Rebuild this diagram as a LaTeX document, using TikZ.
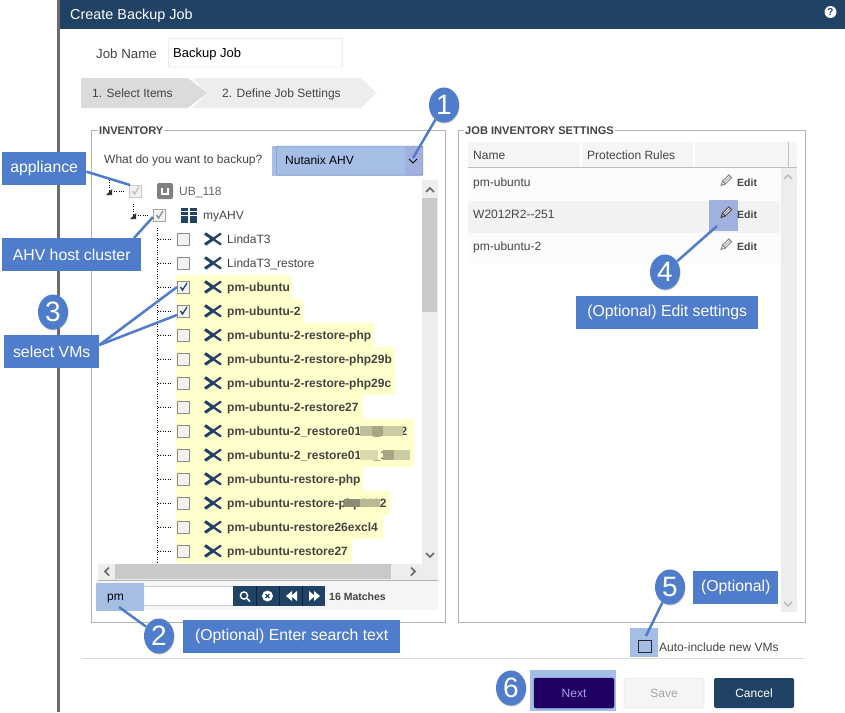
\documentclass[tikz,border=0pt]{standalone}
\usepackage{fontspec}
\setmainfont{Liberation Sans}
\usetikzlibrary{shapes.geometric,shadows}
\definecolor{navy}{HTML}{1F4265}
\definecolor{callblue}{HTML}{4F7CCB}
\definecolor{hilite}{HTML}{A5BEE5}
\definecolor{hilitb}{HTML}{A2B0E0}
\definecolor{vmyellow}{HTML}{FFFFCC}
\definecolor{uitext}{HTML}{444444}
\definecolor{nextblue}{HTML}{1F0062}
\definecolor{nexttext}{HTML}{AAA5E1}
\tikzset{
	lbl/.style={inner sep=0, anchor=base west, text=uitext, font=\fontsize{12}{14}\selectfont},
	lblb/.style={lbl, font=\fontsize{12}{14}\selectfont\bfseries},
	legendtxt/.style={lbl, fill=white, inner xsep=1, font=\fontsize{11.1}{13}\selectfont\bfseries},
	callbox/.style={fill=callblue, text=white, inner sep=0, font=\fontsize{15.8}{18}\selectfont},
	badge/.style={ellipse, fill=callblue, text=white, inner sep=0, minimum width=30, minimum height=35,
		font=\fontsize{28}{30}\selectfont, drop shadow={opacity=0.45, shadow xshift=0.5pt, shadow yshift=-1pt}},
	calline/.style={callblue, line width=2.5},
	hibox/.style={fill=hilite, inner sep=0},
	chk/.style={rectangle, draw=#1, fill=black!5, inner sep=0, minimum size=12, line width=1},
	chk/.default={black!45},
	btn/.style={rounded corners=2, inner sep=0, minimum width=80, minimum height=30, font=\fontsize{12}{14}\selectfont}
}
% one pic per icon
\tikzset{
	vmicon/.pic={
		\draw[navy, line width=3] (-8,-5.5) -- (0,0) -- (-8,5.5);
		\draw[navy, line width=2.2] (8,-5.5) -- (0,0) -- (8,5.5);
	},
	pencil/.pic={
		\draw[#1, line width=0.9, fill=white, rotate=-45] (-2,-6) rectangle (2,3);
		\draw[#1, line width=0.9, rotate=-45] (-2,3) -- (0,7) -- (2,3);
		\draw[#1, line width=0.5, rotate=-45] (0,-6) -- (0,3);
	},
	uparrow/.pic={\draw[#1, line width=1.6] (-4,2) -- (0,-2) -- (4,2);},
	downarrow/.pic={\draw[#1, line width=1.6] (-4,-2) -- (0,2) -- (4,-2);},
}
\def\tick(#1,#2)#3{\draw[#3, line width=1.3] (#1-3,#2) -- (#1-1,#2+3) -- (#1+3.5,#2-4);}
\begin{document}
\begin{tikzpicture}[x=1pt, y=-1pt]
	\useasboundingbox (0,0) rectangle (845,712);
	\fill[white] (0,0) rectangle (845,712);
	%%%%% FRAME %%%%%
	\fill[black!58] (57,0) rectangle (60,712);
	\fill[navy] (60,0) rectangle (845,29);
	\node[lbl, text=white, font=\fontsize{14.4}{16}\selectfont] (title) at (70,19) {Create Backup Job};
	\node[circle, fill=white, text=navy, inner sep=0, minimum size=12, font=\fontsize{10}{10}\selectfont\bfseries] (help) at (830.5,12) {?};

	\node[lbl, font=\fontsize{13.3}{15}\selectfont] (jobname) at (96,58) {Job Name};
	\draw[black!20, rounded corners=2] (168.5,38.5) rectangle (342.5,67);
	\node[lbl, text=black, font=\fontsize{13}{15}\selectfont] (jobval) at (173,57) {Backup Job};

	%%%%% STEPS %%%%%
	\fill[black!7] (192,78) -- (361,78) -- (376,93) -- (361,108) -- (192,108) -- (207,93) -- cycle;
	\fill[black!14, rounded corners=1] (81,78) -- (188,78) -- (207,93) -- (188,108) -- (81,108) -- cycle;
	\node[lbl] (stepa) at (92,97) {1. Select Items};
	\node[lbl] (stepb) at (222,97) {2. Define Job Settings};

	%%%%% INVENTORY %%%%%
	\draw[black!30] (91.5,130.5) rectangle (445,622.5);
	\node[legendtxt] (inv) at (98,134) {INVENTORY};
	\node[lbl] (whatq) at (104,163) {What do you want to backup?};
	\node[hibox, minimum width=151, minimum height=30, anchor=north west] (ddhi) at (272,145.5) {};
	\fill[hilitb] (405,146) rectangle (422.5,175);
	\draw[black!30!hilitb, rounded corners=2] (276.5,146) rectangle (423,175);
	\node[lbl, text=black] (ddval) at (285,164.5) {Nutanix AHV};
	\coordinate (ddtip) at (413,158);
	\draw[black, line width=0.9] (409,159) -- (413,163) -- (417,159);

	% tree scroll bars
	\fill[black!7] (422,180) rectangle (438,565);
	\fill[black!21] (422,198) rectangle (437,312);
	\pic at (430,190) {uparrow={black!60}};
	\pic at (430,555) {downarrow={black!60}};
	\fill[black!7] (98,564) rectangle (438,580);
	\fill[black!21] (115,564) rectangle (391,579);
	\draw[black!60, line width=1.6] (109,567.5) -- (105,571.5) -- (109,575.5);
	\draw[black!60, line width=1.6] (411,567.5) -- (415,571.5) -- (411,575.5);

	% tree lines
	\draw[black, dotted] (109,180) -- (109,190);
	\draw[black, dotted] (109,191) -- (124,191);
	\fill[black!80] (106,195) -- (112,195) -- (112,189) -- cycle;
	\draw[black, dotted] (133,204) -- (133,215);
	\draw[black, dotted] (133,215) -- (148,215);
	\fill[black!80] (130,219) -- (136,219) -- (136,213) -- cycle;
	\draw[black, dotted] (157,228) -- (157,563);

	% top two tree rows
	\node[chk={black!22}, minimum size=12] (chkapp) at (135.5,191) {};
	\tick(135.5,191){black!25}
	\fill[black!50, rounded corners=2] (157,183) rectangle (173,199);
	\draw[white, line width=1.5] (162,188) -- (162,194) -- (168,194) -- (168,188);
	\node[lbl, text=black!60] (appname) at (179,195) {UB\_118};
	\node[chk={black!35}] (chkhost) at (159.5,215) {};
	\tick(159.5,215){black!45}
	\fill[navy] (181,208) rectangle (188,223);
	\fill[navy] (190,208) rectangle (197,223);
	\fill[white] (181,211) rectangle (197,212);
	\fill[white] (181,215) rectangle (197,216);
	\node[lbl] (hostname) at (203,219) {myAHV};

	% rows of VMs: y / name / end of yellow
	\foreach \vy/\vname/\vend [count=\vi] in {
		287/pm-ubuntu/292, 311/pm-ubuntu-2/303, 335/pm-ubuntu-2-restore-php/374,
		359/pm-ubuntu-2-restore-php29b/395, 383/pm-ubuntu-2-restore-php29c/395,
		407/pm-ubuntu-2-restore27/363, 431/pm-ubuntu-2\_restore0110\_1402/414,
		455/pm-ubuntu-2\_restore0110\_1437/414, 479/pm-ubuntu-restore-php/363,
		503/pm-ubuntu-restore-php0112/390, 527/pm-ubuntu-restore26excl4/383,
		551/pm-ubuntu-restore27/352} {
		\fill[vmyellow] (176,\vy-12) rectangle (\vend,\vy+12);
		\draw[black, dotted] (158,\vy) -- (172,\vy);
		\node[chk] (vmchk\vi) at (183.5,\vy) {};
		\pic at (213,\vy) {vmicon};
		\node[lblb] (vm\vi) at (227,\vy+4) {\vname};
	}
	\tick(183.5,287){navy}
	\tick(183.5,311){navy}
	\foreach \vy/\vname [count=\vi] in {239/LindaT3, 263/LindaT3\_restore} {
		\draw[black, dotted] (158,\vy) -- (172,\vy);
		\node[chk] (lchk\vi) at (183.5,\vy) {};
		\pic at (213,\vy) {vmicon};
		\node[lbl] (lvm\vi) at (227,\vy+4) {\vname};
	}
	% blurred out parts of the names
	\fill[black!25!vmyellow] (360,426) rectangle (372,436);
	\fill[black!35!vmyellow] (372,426) rectangle (383,436);
	\fill[black!20!vmyellow] (383,426) rectangle (403,436);
	\fill[black!15!vmyellow] (360,450) rectangle (378,460);
	\fill[black!35!vmyellow] (383,450) rectangle (394,460);
	\fill[black!20!vmyellow] (394,450) rectangle (410,460);
	\fill[black!45!vmyellow] (344,499) rectangle (360,507);
	\fill[black!28!vmyellow] (360,499) rectangle (380,507);

	% search bar
	\draw[black!30] (98,580.5) -- (438,580.5);
	\fill[black!4] (98,581) rectangle (438,610);
	\node[hibox, minimum width=48, minimum height=28, anchor=north west] (srchhi) at (96,583) {};
	\fill[white] (144,587) rectangle (233,605);
	\draw[black!20] (144,586.5) -- (233,586.5);
	\draw[black!20] (144,605.5) -- (233,605.5);
	\draw[green!30!black!30, rounded corners=2] (103.5,586.5) rectangle (144,605.5);
	\node[lbl, text=black] (srchval) at (107,600) {pm};
	\coordinate (srchtip) at (119,607);
	\fill[navy] (233,586) rectangle (325,606);
	\foreach \bx in {256,279,302} {
		\draw[black!50!navy] (\bx,586) -- (\bx,606);
	}
	\draw[white, line width=1.4] (244,595.5) circle (3.6);
	\draw[white, line width=1.6] (247,598.5) -- (250,601.5);
	\fill[white] (267.5,596) circle (5.5);
	\draw[navy, line width=1.1] (265.5,594) -- (269.5,598);
	\draw[navy, line width=1.1] (269.5,594) -- (265.5,598);
	\fill[white] (286,596) -- (292,591) -- (292,601) -- cycle;
	\fill[white] (291,596) -- (297,591) -- (297,601) -- cycle;
	\fill[white] (309,591) -- (315,596) -- (309,601) -- cycle;
	\fill[white] (314,591) -- (320,596) -- (314,601) -- cycle;
	\node[lblb, font=\fontsize{10.5}{12}\selectfont\bfseries] (matches) at (329,600.5) {16 Matches};

	%%%%% JOB INVENTORY SETTINGS %%%%%
	\draw[black!30] (458,130.5) rectangle (805,622.5);
	\node[legendtxt] (jobinv) at (464,134) {JOB INVENTORY SETTINGS};
	\fill[black!4] (468,142) rectangle (797,167);
	\fill[white] (580,142) rectangle (582,167);
	\fill[white] (693,142) rectangle (695,167);
	\draw[black!25] (788.5,142) -- (788.5,167);
	\draw[black!25] (468,167.5) -- (797,167.5);
	\node[lbl] (hname) at (473,159) {Name};
	\node[lbl] (hrules) at (587,159) {Protection Rules};
	\fill[black!7] (781,168) rectangle (797,612);
	\pic at (788,177) {uparrow={black!25}};
	\pic at (788,604) {downarrow={black!25}};
	\fill[black!1] (468,168) rectangle (780,201);
	\fill[black!5] (468,201) rectangle (780,233);
	\fill[black!1] (468,233) rectangle (780,264);
	\node[hibox, fill=hilitb, minimum width=29, minimum height=31, anchor=north west] (edithi) at (709,200) {};
	\foreach \ry/\rname [count=\ri] in {182/pm-ubuntu, 214/W2012R2{-}{-}251, 246/pm-ubuntu-2} {
		\node[lbl] (row\ri) at (473,\ry+4) {\rname};
		\node[lblb, font=\fontsize{10.5}{12}\selectfont\bfseries] (edit\ri) at (737,\ry+4) {Edit};
	}
	\pic at (726,180.5) {pencil={black!50}};
	\pic at (726,212.5) {pencil={black!75}};
	\pic at (726,244.5) {pencil={black!50}};
	\coordinate (edittip) at (717,226);

	% bottom of the dialog
	\node[hibox, minimum width=28, minimum height=29, anchor=north west] (autohi) at (630,628) {};
	\draw[black!85, line width=0.9] (638.5,640) rectangle (651,652);
	\node[lbl] (autotxt) at (659,651) {Auto-include new VMs};
	\coordinate (autotip) at (646,636);
	\draw[black!15] (81,658.5) -- (804,658.5);
	\fill[hilite] (530,670) rectangle (616,711);
	\node[btn, fill=nextblue, draw=nextblue, text=nexttext] (nextbtn) at (574,693) {Next};
	\node[btn, fill=black!4, draw=black!15, text=black!35] (savebtn) at (664,693) {Save};
	\node[btn, fill=navy, text=white] (cancelbtn) at (754,693) {Cancel};

	%%%%% CALLOUTS %%%%%
	\node[callbox, minimum width=84, minimum height=33, anchor=north west] (appliance) at (2,152) {appliance};
	\node[callbox, minimum width=139, minimum height=33, anchor=north west] (hostbox) at (2,238) {AHV host cluster};
	\node[callbox, minimum width=95, minimum height=33, anchor=north west] (selbox) at (4,335) {select VMs};
	\node[callbox, minimum width=217, minimum height=33, anchor=north west] (srchbox) at (183,620) {(Optional) Enter search text};
	\node[callbox, minimum width=182, minimum height=33, anchor=north west] (editbox) at (576,296) {(Optional) Edit settings};
	\node[callbox, minimum width=85, minimum height=33, anchor=north west] (optbox) at (693,571) {(Optional)};

	\coordinate (apptip) at (130,185);
	\coordinate (hosttip) at (153,217);
	\coordinate (vmtipa) at (177,287);
	\coordinate (vmtipb) at (177,315);

	\draw[calline] (appliance.-4) -- (apptip);
	\draw[calline] (hostbox.15) -- (hosttip);
	\draw[calline] (selbox.8) -- (vmtipa);
	\draw[calline] (selbox.8) -- (vmtipb);

	\node[badge] (one) at (444,105) {1};
	\node[badge] (two) at (159,636) {2};
	\node[badge] (three) at (53,312) {3};
	\node[badge] (four) at (665,272) {4};
	\node[badge] (five) at (670,587) {5};
	\node[badge] (six) at (511,688) {6};

	\draw[calline] (one) -- (ddtip);
	\draw[calline] (two) -- (srchtip);
	\draw[calline] (four) -- (edittip);
	\draw[calline] (five) -- (autotip);
\end{tikzpicture}
\end{document}
